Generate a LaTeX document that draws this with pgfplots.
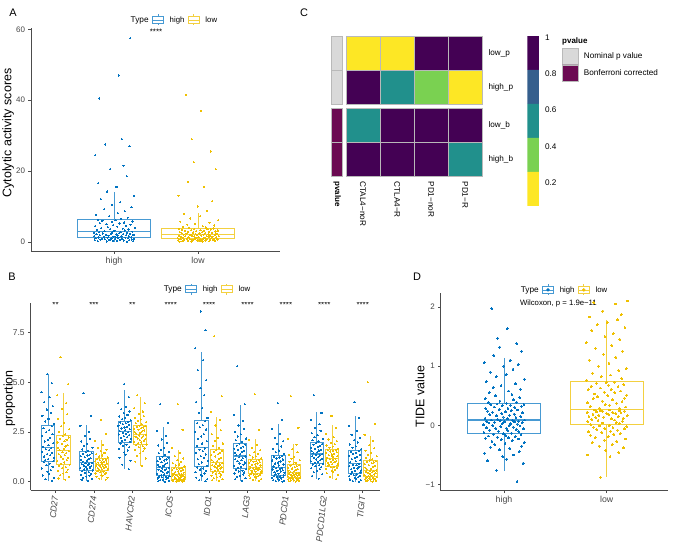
\documentclass[border=0pt]{standalone}
\usepackage{fontspec}
\setmainfont{Liberation Sans}
\usepackage{pgfplots}
\pgfplotsset{compat=1.18}
\usepackage{pgfplotstable}
\usepgfplotslibrary{statistics}

\definecolor{jblue}{HTML}{0073C2}
\definecolor{jyel}{HTML}{EFC000}
\colorlet{bblue}{jblue!72}
\colorlet{byel}{jyel!75}
\definecolor{vpur}{HTML}{440154}
\definecolor{vblu}{HTML}{355F8D}
\definecolor{vtea}{HTML}{21908C}
\definecolor{vgre}{HTML}{7AD151}
\definecolor{vyel}{HTML}{FDE725}
\definecolor{anngray}{HTML}{D9D9D9}
\definecolor{annpur}{HTML}{6B0A52}
\colorlet{hgrid}{gray!55}

\newcommand{\fs}[1]{\fontsize{#1}{#1}\selectfont}
\newcommand{\hc}[5]{\addplot[fill=#5, draw=hgrid, line width=0.5pt] coordinates {(#1,#3) (#2,#3) (#2,#4) (#1,#4) (#1,#3)};}
\newcommand{\fc}[5]{\addplot[fill=#5, draw=none] coordinates {(#1,#3) (#2,#3) (#2,#4) (#1,#4) (#1,#3)};}

\pgfplotsset{
  gg/.style={scale only axis, axis lines*=left, axis line style={black!70, line width=0.6pt},
    tick align=outside, major tick length=2.5bp, tick style={black!70, line width=0.5pt},
    tick label style={text=black!72}},
  keyb/.style={legend image code/.code={\draw[bblue, line width=0.6pt] (0bp,-3.5bp) rectangle (11bp,3.5bp) (0bp,0bp)--(11bp,0bp) (5.5bp,3.5bp)--(5.5bp,5.5bp) (5.5bp,-3.5bp)--(5.5bp,-5.5bp);}},
  keyy/.style={legend image code/.code={\draw[byel, line width=0.6pt] (0bp,-3.5bp) rectangle (11bp,3.5bp) (0bp,0bp)--(11bp,0bp) (5.5bp,3.5bp)--(5.5bp,5.5bp) (5.5bp,-3.5bp)--(5.5bp,-5.5bp);}},
  keydb/.style={legend image code/.code={\draw[bblue, line width=0.6pt] (0bp,-3.5bp) rectangle (11bp,3.5bp) (0bp,0bp)--(11bp,0bp) (5.5bp,3.5bp)--(5.5bp,5.5bp) (5.5bp,-3.5bp)--(5.5bp,-5.5bp); \fill[jblue] (5.5bp,0bp) circle (1.5bp);}},
  keydy/.style={legend image code/.code={\draw[byel, line width=0.6pt] (0bp,-3.5bp) rectangle (11bp,3.5bp) (0bp,0bp)--(11bp,0bp) (5.5bp,3.5bp)--(5.5bp,5.5bp) (5.5bp,-3.5bp)--(5.5bp,-5.5bp); \fill[jyel] (5.5bp,0bp) circle (1.5bp);}},
  gglegend/.style={legend style={draw=none, fill=none, legend columns=-1, anchor=center, font=\fs{7.8}, inner sep=0pt,
    /tikz/every even column/.append style={column sep=1.5bp},
    /tikz/every odd column/.append style={column sep=4bp}}},
  bx/.style={forget plot, line width=0.6pt, boxplot/draw direction=y, boxplot/every median/.style={line width=1.1pt}},
  ptb/.style={forget plot, only marks, mark=*, color=jblue, mark options={line width=0pt}},
  pty/.style={forget plot, only marks, mark=*, color=jyel, mark options={line width=0pt}},
}

% ---------- Panel A data (one row per series, transposed below)
\pgfplotstableread[header=false]{
ja 0.62 -0.35 0.91 -0.78 0.14 -0.06 0.47 -0.92 0.73 -0.21 0.28 -0.64 0.85 -0.43 0.05 0.96 -0.57 0.39 -0.12 0.67 -0.88 0.21 -0.31 0.54 -0.74 0.09 0.81 -0.49 -0.02 0.36 -0.95 0.71 -0.26 0.18 -0.67 0.58 0.93 -0.39 0.11 -0.83 0.44 -0.15 0.76 -0.53 0.25 -0.97 0.63 -0.08 0.32 -0.71 0.87 -0.45 0.02 0.51 -0.81 0.69 -0.18 0.41 -0.61 0.99 -0.29 0.16 -0.9 0.57 -0.04 0.79 -0.36 0.26 -0.68 0.48 -0.11 0.88 -0.55 0.07 -0.77 0.34 0.65 -0.23 -0.86 0.19 0.52 -0.47 0.83 -0.09 0.3 -0.62 0.95 -0.33 0.12 -0.75 0.6 -0.19 0.45 -0.89 0.74 -0.41 0.38 -0.7 0.22 0.78
jb -0.88 0.21 -0.31 0.54 -0.74 0.09 0.81 -0.49 -0.02 0.36 -0.95 0.71 -0.26 0.18 -0.67 0.58 0.93 -0.39 0.11 -0.83 0.44 -0.15 0.76 -0.53 0.25 -0.97 0.63 -0.08 0.32 -0.71 0.87 -0.45 0.02 0.51 -0.81 0.69 -0.18 0.41 -0.61 0.99 -0.29 0.16 -0.9 0.57 -0.04 0.79 -0.36 0.26 -0.68 0.48 -0.11 0.88 -0.55 0.07 -0.77 0.34 0.65 -0.23 -0.86 0.19 0.52 -0.47 0.83 -0.09 0.3 -0.62 0.95 -0.33 0.12 -0.75 0.6 -0.19 0.45 -0.89 0.74 -0.41 0.38 -0.7 0.22 0.78 -0.51 -0.14 0.55 -0.84 0.97 -0.37 0.1 -0.65 0.43 -0.01 0.68 -0.93 0.29 -0.48 0.84 -0.2 0.6 -0.3 0.15 -0.58
hi 0.04 0.09 0.16 0.21 0.27 0.3 0.36 0.42 0.45 0.51 0.56 0.6 0.66 0.71 0.74 0.8 0.86 0.9 0.94 1.0 1.04 1.09 1.12 1.17 1.21 1.28 1.33 1.4 1.45 1.52 1.58 1.63 1.7 1.76 1.82 1.88 1.93 2.0 2.05 2.12 2.18 2.24 2.3 2.37 2.43 2.5 2.56 2.62 2.69 2.75 2.88 3.0 3.1 3.22 3.35 3.47 3.6 3.72 3.86 4.0 4.13 4.27 4.4 4.55 4.7 4.85 5.0 5.15 5.3 5.45 5.6 5.75 5.9 6.05 6.2 6.5 6.8 7.2 7.6 8.1 8.6 9.2 9.8 10.4 11.2 12.0 13.0 14.2 15.5 16.5 18.5 20.5 21.5 24.5 27.0 27.5 29.0 40.5 47.0 57.5
lo 0.03 0.07 0.11 0.15 0.19 0.23 0.27 0.31 0.35 0.39 0.43 0.47 0.51 0.55 0.59 0.62 0.66 0.7 0.73 0.77 0.8 0.84 0.87 0.9 0.93 0.99 1.03 1.08 1.12 1.17 1.21 1.26 1.3 1.35 1.39 1.44 1.48 1.53 1.57 1.62 1.66 1.71 1.75 1.8 1.84 1.89 1.93 1.98 2.02 2.07 2.15 2.21 2.28 2.34 2.41 2.47 2.54 2.6 2.67 2.73 2.8 2.86 2.93 3.0 3.06 3.13 3.2 3.27 3.33 3.4 3.47 3.54 3.61 3.68 3.75 3.9 4.05 4.2 4.4 4.6 4.85 5.1 5.4 5.7 6.1 6.6 7.2 7.9 8.8 10.0 11.5 13.0 15.5 17.0 20.5 22.5 25.5 29.0 37.0 41.5
}\Araw
\pgfplotstabletranspose[colnames from=0]{\Atab}{\Araw}

% ---------- Panel B data
\pgfplotstableread[header=false]{
ja 0.62 -0.35 0.91 -0.78 0.14 -0.06 0.47 -0.92 0.73 -0.21 0.28 -0.64 0.85 -0.43 0.05 0.96 -0.57 0.39 -0.12 0.67 -0.88 0.21 -0.31 0.54 -0.74 0.09 0.81 -0.49 -0.02 0.36 -0.95 0.71 -0.26 0.18 -0.67 0.58 0.93 -0.39 0.11 -0.83 0.44 -0.15 0.76 -0.53 0.25 -0.97 0.63 -0.08
jb 0.32 -0.71 0.87 -0.45 0.02 0.51 -0.81 0.69 -0.18 0.41 -0.61 0.99 -0.29 0.16 -0.9 0.57 -0.04 0.79 -0.36 0.26 -0.68 0.48 -0.11 0.88 -0.55 0.07 -0.77 0.34 0.65 -0.23 -0.86 0.19 0.52 -0.47 0.83 -0.09 0.3 -0.62 0.95 -0.33 0.12 -0.75 0.6 -0.19 0.45 -0.89 0.74 -0.41
b1h 0.05 0.12 0.2 0.31 0.4 0.5 0.58 0.66 0.74 0.82 0.9 0.97 1.02 1.08 1.13 1.19 1.26 1.32 1.38 1.44 1.5 1.57 1.63 1.69 1.75 1.84 1.93 2.02 2.1 2.2 2.3 2.39 2.48 2.58 2.68 2.78 2.9 3.02 3.15 3.3 3.45 3.62 3.8 4.0 4.25 4.5 4.95 5.4
b1l 0.1 0.16 0.24 0.32 0.4 0.47 0.54 0.6 0.67 0.73 0.79 0.85 0.9 0.96 1.02 1.08 1.14 1.2 1.26 1.32 1.38 1.43 1.48 1.53 1.59 1.65 1.71 1.77 1.83 1.9 1.97 2.04 2.1 2.16 2.22 2.28 2.38 2.5 2.63 2.78 2.95 3.15 3.38 3.65 3.95 4.35 4.9 6.25
b2h 0.04 0.09 0.14 0.19 0.25 0.3 0.35 0.4 0.44 0.48 0.52 0.56 0.61 0.64 0.68 0.71 0.74 0.78 0.81 0.84 0.87 0.9 0.92 0.95 1.0 1.04 1.09 1.13 1.18 1.22 1.27 1.31 1.35 1.39 1.43 1.47 1.55 1.62 1.7 1.8 1.9 2.02 2.15 2.3 2.5 2.8 3.3 4.45
b2l 0.1 0.15 0.2 0.25 0.29 0.33 0.37 0.41 0.44 0.47 0.5 0.53 0.57 0.6 0.62 0.65 0.67 0.7 0.72 0.74 0.76 0.78 0.8 0.82 0.86 0.89 0.92 0.95 0.98 1.0 1.03 1.06 1.08 1.11 1.13 1.15 1.21 1.26 1.31 1.37 1.44 1.52 1.6 1.7 1.85 2.05 2.4 3.1
b3h 0.62 0.85 1.05 1.2 1.35 1.46 1.56 1.65 1.73 1.8 1.86 1.92 2.0 2.05 2.1 2.15 2.2 2.24 2.29 2.33 2.37 2.41 2.45 2.48 2.54 2.58 2.63 2.67 2.72 2.76 2.8 2.85 2.89 2.93 2.97 3.0 3.08 3.14 3.2 3.27 3.35 3.43 3.52 3.63 3.76 3.95 4.25 4.9
b3l 0.8 1.0 1.16 1.3 1.42 1.52 1.6 1.67 1.73 1.78 1.83 1.87 1.93 1.97 2.01 2.05 2.09 2.13 2.17 2.21 2.25 2.29 2.32 2.35 2.41 2.45 2.49 2.53 2.57 2.61 2.65 2.69 2.72 2.75 2.78 2.81 2.88 2.93 2.99 3.05 3.12 3.2 3.29 3.4 3.52 3.7 3.95 4.35
b4h 0.0 0.02 0.04 0.07 0.1 0.13 0.16 0.19 0.22 0.24 0.26 0.28 0.33 0.36 0.4 0.43 0.47 0.5 0.54 0.57 0.6 0.63 0.66 0.69 0.75 0.79 0.84 0.88 0.93 0.97 1.02 1.06 1.11 1.16 1.2 1.25 1.35 1.42 1.5 1.6 1.7 1.82 1.96 2.12 2.3 2.55 2.95 3.9
b4l 0.0 0.01 0.02 0.03 0.05 0.06 0.07 0.08 0.09 0.1 0.11 0.12 0.15 0.17 0.19 0.21 0.23 0.25 0.27 0.29 0.31 0.33 0.34 0.36 0.39 0.42 0.45 0.48 0.51 0.54 0.57 0.6 0.63 0.65 0.68 0.7 0.76 0.81 0.86 0.92 0.99 1.07 1.16 1.28 1.45 1.7 2.6 3.9
b5h 0.02 0.07 0.13 0.2 0.27 0.34 0.41 0.48 0.55 0.61 0.66 0.71 0.8 0.88 0.96 1.04 1.12 1.2 1.28 1.36 1.45 1.53 1.6 1.67 1.8 1.92 2.04 2.15 2.27 2.39 2.5 2.62 2.73 2.84 2.94 3.03 3.2 3.45 3.7 4.0 4.35 4.7 5.1 5.6 6.1 6.7 7.6 8.55
b5l 0.04 0.08 0.12 0.17 0.22 0.26 0.3 0.34 0.38 0.42 0.46 0.49 0.55 0.59 0.62 0.66 0.69 0.73 0.76 0.79 0.83 0.86 0.89 0.92 0.98 1.03 1.08 1.14 1.2 1.26 1.32 1.38 1.44 1.49 1.54 1.59 1.7 1.8 1.92 2.05 2.2 2.38 2.58 2.82 3.1 3.5 4.3 7.3
b6h 0.05 0.12 0.18 0.24 0.3 0.36 0.41 0.46 0.51 0.55 0.59 0.63 0.69 0.74 0.8 0.85 0.91 0.96 1.02 1.07 1.12 1.17 1.22 1.26 1.33 1.38 1.44 1.49 1.55 1.6 1.66 1.71 1.76 1.81 1.86 1.91 2.0 2.08 2.17 2.27 2.38 2.5 2.65 2.82 3.05 3.35 3.9 5.8
b6l 0.05 0.09 0.13 0.17 0.21 0.25 0.28 0.31 0.34 0.36 0.38 0.4 0.45 0.47 0.5 0.53 0.55 0.58 0.6 0.62 0.64 0.66 0.68 0.7 0.75 0.78 0.81 0.84 0.88 0.91 0.94 0.97 1.0 1.03 1.06 1.09 1.16 1.21 1.27 1.33 1.4 1.48 1.58 1.7 1.85 2.1 2.6 4.4
b7h 0.0 0.02 0.04 0.07 0.1 0.13 0.16 0.19 0.22 0.24 0.26 0.28 0.33 0.37 0.4 0.44 0.47 0.51 0.54 0.58 0.61 0.64 0.67 0.7 0.76 0.81 0.86 0.91 0.96 1.01 1.06 1.11 1.16 1.21 1.26 1.3 1.4 1.48 1.56 1.66 1.77 1.9 2.04 2.2 2.4 2.65 3.1 3.95
b7l 0.0 0.02 0.04 0.06 0.08 0.1 0.12 0.14 0.16 0.18 0.19 0.21 0.24 0.26 0.28 0.3 0.32 0.34 0.35 0.37 0.39 0.41 0.42 0.44 0.48 0.52 0.55 0.59 0.63 0.66 0.7 0.73 0.77 0.8 0.83 0.87 0.94 1.0 1.07 1.15 1.24 1.35 1.48 1.64 1.85 2.15 2.7 4.3
b8h 0.15 0.28 0.38 0.47 0.55 0.62 0.68 0.73 0.78 0.82 0.86 0.9 0.95 0.99 1.03 1.07 1.11 1.15 1.19 1.23 1.27 1.31 1.34 1.37 1.42 1.47 1.52 1.56 1.61 1.66 1.71 1.75 1.8 1.85 1.89 1.94 2.02 2.09 2.16 2.24 2.33 2.43 2.55 2.7 2.88 3.1 3.45 4.35
b8l 0.12 0.24 0.34 0.42 0.49 0.55 0.6 0.65 0.69 0.72 0.75 0.77 0.82 0.85 0.88 0.91 0.94 0.97 1.0 1.03 1.06 1.09 1.12 1.15 1.2 1.24 1.28 1.32 1.36 1.4 1.44 1.47 1.51 1.54 1.57 1.6 1.66 1.71 1.76 1.82 1.88 1.95 2.03 2.12 2.24 2.4 2.7 3.3
b9h 0.0 0.03 0.07 0.11 0.15 0.19 0.23 0.27 0.3 0.33 0.36 0.39 0.46 0.5 0.54 0.58 0.62 0.66 0.7 0.74 0.78 0.82 0.85 0.89 0.97 1.02 1.08 1.13 1.19 1.24 1.3 1.35 1.4 1.45 1.5 1.54 1.63 1.7 1.78 1.87 1.97 2.08 2.2 2.35 2.55 2.8 3.2 4.0
b9l 0.0 0.02 0.04 0.06 0.09 0.11 0.13 0.15 0.17 0.19 0.21 0.23 0.28 0.3 0.33 0.36 0.39 0.42 0.44 0.47 0.5 0.52 0.54 0.56 0.61 0.65 0.7 0.74 0.79 0.83 0.88 0.92 0.96 1.0 1.03 1.06 1.13 1.2 1.27 1.35 1.44 1.55 1.68 1.83 2.05 2.35 2.9 5.0
}\Braw
\pgfplotstabletranspose[colnames from=0]{\Btab}{\Braw}

% ---------- Panel D data
\pgfplotstableread[header=false]{
ja 0.62 -0.35 0.91 -0.78 0.14 -0.06 0.47 -0.92 0.73 -0.21 0.28 -0.64 0.85 -0.43 0.05 0.96 -0.57 0.39 -0.12 0.67 -0.88 0.21 -0.31 0.54 -0.74 0.09 0.81 -0.49 -0.02 0.36 -0.95 0.71 -0.26 0.18 -0.67 0.58 0.93 -0.39 0.11 -0.83 0.44 -0.15 0.76 -0.53 0.25 -0.97 0.63 -0.08 0.32 -0.71 0.87 -0.45 0.02 0.51 -0.81 0.69 -0.18 0.41 -0.61 0.99 -0.29 0.16 -0.9 0.57 -0.04 0.79 -0.36 0.26 -0.68 0.48 -0.11 0.88 -0.55 0.07 -0.77 0.34 0.65 -0.23 -0.86 0.19 0.52 -0.47 0.83 -0.09 0.3 -0.62 0.95 -0.33 0.12 -0.75 0.6 -0.19 0.45 -0.89 0.74 -0.41 0.38 -0.7 0.22 0.78 -0.51 -0.14 0.55 -0.84 0.97 -0.37 0.1 -0.65 0.43 -0.01 0.68 -0.93 0.29 -0.48 0.84 -0.2 0.6 -0.3 0.15 -0.58
jb -0.29 0.16 -0.9 0.57 -0.04 0.79 -0.36 0.26 -0.68 0.48 -0.11 0.88 -0.55 0.07 -0.77 0.34 0.65 -0.23 -0.86 0.19 0.52 -0.47 0.83 -0.09 0.3 -0.62 0.95 -0.33 0.12 -0.75 0.6 -0.19 0.45 -0.89 0.74 -0.41 0.38 -0.7 0.22 0.78 -0.51 -0.14 0.55 -0.84 0.97 -0.37 0.1 -0.65 0.43 -0.01 0.68 -0.93 0.29 -0.48 0.84 -0.2 0.6 -0.3 0.15 -0.58 0.62 -0.35 0.91 -0.78 0.14 -0.06 0.47 -0.92 0.73 -0.21 0.28 -0.64 0.85 -0.43 0.05 0.96 -0.57 0.39 -0.12 0.67 -0.88 0.21 -0.31 0.54 -0.74 0.09 0.81 -0.49 -0.02 0.36 -0.95 0.71 -0.26 0.18 -0.67 0.58 0.93 -0.39 0.11 -0.83 0.44 -0.15 0.76 -0.53 0.25 -0.97 0.63 -0.08 0.32 -0.71 0.87 -0.45 0.02 0.51 -0.81 0.69 -0.18 0.41 -0.61 0.99
hi -0.95 -0.76 -0.64 -0.6 -0.57 -0.53 -0.5 -0.47 -0.44 -0.41 -0.39 -0.37 -0.35 -0.33 -0.31 -0.29 -0.27 -0.26 -0.24 -0.23 -0.22 -0.21 -0.2 -0.19 -0.18 -0.17 -0.16 -0.15 -0.14 -0.13 -0.12 -0.11 -0.1 -0.09 -0.08 -0.07 -0.06 -0.05 -0.05 -0.04 -0.03 -0.02 -0.01 0.0 0.0 0.01 0.02 0.03 0.03 0.04 0.05 0.05 0.06 0.06 0.07 0.07 0.08 0.08 0.09 0.09 0.1 0.11 0.12 0.13 0.14 0.15 0.16 0.17 0.18 0.19 0.2 0.21 0.22 0.23 0.24 0.25 0.26 0.27 0.28 0.29 0.3 0.31 0.32 0.33 0.34 0.35 0.35 0.36 0.37 0.38 0.39 0.41 0.43 0.45 0.47 0.5 0.52 0.55 0.58 0.61 0.64 0.67 0.7 0.74 0.78 0.82 0.86 0.9 0.95 1.0 1.03 1.06 1.1 1.18 1.25 1.32 1.38 1.47 1.63 1.97
lo -0.88 -0.53 -0.5 -0.46 -0.42 -0.38 -0.35 -0.32 -0.29 -0.27 -0.25 -0.23 -0.21 -0.19 -0.17 -0.15 -0.14 -0.12 -0.11 -0.1 -0.08 -0.07 -0.06 -0.05 -0.04 -0.03 -0.02 -0.01 0.0 0.01 0.03 0.04 0.05 0.06 0.07 0.08 0.09 0.1 0.11 0.12 0.13 0.14 0.15 0.15 0.16 0.17 0.18 0.19 0.2 0.2 0.21 0.22 0.22 0.23 0.24 0.24 0.25 0.25 0.26 0.26 0.28 0.29 0.31 0.32 0.34 0.35 0.37 0.38 0.4 0.41 0.43 0.45 0.46 0.48 0.5 0.51 0.53 0.55 0.56 0.58 0.6 0.61 0.63 0.65 0.66 0.68 0.69 0.71 0.72 0.73 0.76 0.79 0.82 0.85 0.88 0.92 0.96 1.0 1.05 1.1 1.15 1.2 1.25 1.3 1.35 1.4 1.45 1.5 1.55 1.6 1.65 1.7 1.74 1.78 1.83 1.87 1.93 2.05 2.07 2.1
}\Draw
\pgfplotstabletranspose[colnames from=0]{\Dtab}{\Draw}

\begin{document}
\begin{tikzpicture}
\useasboundingbox (0,0) rectangle (685bp,-542bp);
\node[font=\fs{11}] at (13bp,-13bp) {A};
\node[font=\fs{11}] at (12bp,-277bp) {B};
\node[font=\fs{11}] at (304bp,-13bp) {C};
\node[font=\fs{11}] at (417bp,-277bp) {D};

% ================= Panel A
\begin{axis}[gg, gglegend, at={(31bp,-251bp)}, anchor=south west, width=249bp, height=223bp,
  xmin=0.012, xmax=2.976, ymin=-2.6, ymax=60.4,
  xtick={1,2}, xticklabels={high,low}, ytick={0,20,40,60}, yticklabels={0,20,40,60},
  x tick label style={font=\fs{8.8}}, y tick label style={font=\fs{8}},
  ylabel={Cytolytic activity scores},
  ylabel style={at={(axis description cs:-0.092,0.529)}, anchor=center, font=\fs{12.5}},
  legend style={at={(0.566,1.036)}}]
\addlegendimage{empty legend}\addlegendentry{\fs{8.3}Type}
\addlegendimage{keyb}\addlegendentry{high}
\addlegendimage{keyy}\addlegendentry{low}
\addplot[bx, bblue, boxplot prepared={draw position=1, lower whisker=0.04, lower quartile=1.24, median=2.8, upper quartile=6.3, upper whisker=14.1, box extend=0.87, whisker extend=0}] coordinates {};
\addplot[bx, byel, boxplot prepared={draw position=2, lower whisker=0.03, lower quartile=0.95, median=2.1, upper quartile=3.8, upper whisker=8.1, box extend=0.87, whisker extend=0}] coordinates {};
\addplot[ptb, mark size=0.6pt] table[x expr={1+0.25*\thisrow{ja}}, y=hi] {\Atab};
\addplot[pty, mark size=0.6pt] table[x expr={2+0.25*\thisrow{jb}}, y=lo] {\Atab};
\node[font=\fs{8}] at (axis cs:1.5,59.3) {****};
\end{axis}

% ================= Panel B
\begin{axis}[gg, gglegend, at={(30.7bp,-490bp)}, anchor=south west, width=349.3bp, height=187.3bp,
  xmin=0.354, xmax=9.45, ymin=-0.42, ymax=8.99,
  xtick={1,...,9}, xticklabels={CD27,CD274,HAVCR2,ICOS,IDO1,LAG3,PDCD1,PDCD1LG2,TIGIT},
  x tick label style={rotate=84, anchor=east, font=\itshape\fs{8.8}},
  ytick={0,2.5,5,7.5}, yticklabels={0.0,2.5,5.0,7.5}, y tick label style={font=\fs{8.5}},
  ylabel={proportion},
  ylabel style={at={(axis description cs:-0.061,0.49)}, anchor=center, font=\fs{12.5}},
  legend style={at={(0.499,1.073)}}]
\addlegendimage{empty legend}\addlegendentry{\fs{8.3}Type}
\addlegendimage{keyb}\addlegendentry{high}
\addlegendimage{keyy}\addlegendentry{low}
% boxes: high at i-0.2, low at i+0.2
\addplot[bx, bblue, boxplot prepared={draw position=0.8, lower whisker=0.05, lower quartile=1.0, median=1.72, upper quartile=2.85, upper whisker=5.4, box extend=0.35, whisker extend=0}] coordinates {};
\addplot[bx, byel, boxplot prepared={draw position=1.2, lower whisker=0.1, lower quartile=0.87, median=1.56, upper quartile=2.31, upper whisker=4.45, box extend=0.35, whisker extend=0}] coordinates {};
\addplot[bx, bblue, boxplot prepared={draw position=1.8, lower whisker=0.04, lower quartile=0.59, median=0.97, upper quartile=1.5, upper whisker=2.85, box extend=0.35, whisker extend=0}] coordinates {};
\addplot[bx, byel, boxplot prepared={draw position=2.2, lower whisker=0.1, lower quartile=0.55, median=0.84, upper quartile=1.17, upper whisker=2.1, box extend=0.35, whisker extend=0}] coordinates {};
\addplot[bx, bblue, boxplot prepared={draw position=2.8, lower whisker=0.62, lower quartile=1.96, median=2.51, upper quartile=3.03, upper whisker=4.6, box extend=0.35, whisker extend=0}] coordinates {};
\addplot[bx, byel, boxplot prepared={draw position=3.2, lower whisker=0.8, lower quartile=1.89, median=2.38, upper quartile=2.84, upper whisker=4.25, box extend=0.35, whisker extend=0}] coordinates {};
\addplot[bx, bblue, boxplot prepared={draw position=3.8, lower whisker=0.0, lower quartile=0.3, median=0.72, upper quartile=1.29, upper whisker=2.75, box extend=0.35, whisker extend=0}] coordinates {};
\addplot[bx, byel, boxplot prepared={draw position=4.2, lower whisker=0.0, lower quartile=0.13, median=0.37, upper quartile=0.72, upper whisker=1.6, box extend=0.35, whisker extend=0}] coordinates {};
\addplot[bx, bblue, boxplot prepared={draw position=4.8, lower whisker=0.02, lower quartile=0.75, median=1.72, upper quartile=3.08, upper whisker=6.5, box extend=0.35, whisker extend=0}] coordinates {};
\addplot[bx, byel, boxplot prepared={draw position=5.2, lower whisker=0.04, lower quartile=0.52, median=0.94, upper quartile=1.62, upper whisker=3.25, box extend=0.35, whisker extend=0}] coordinates {};
\addplot[bx, bblue, boxplot prepared={draw position=5.8, lower whisker=0.05, lower quartile=0.65, median=1.29, upper quartile=1.94, upper whisker=3.85, box extend=0.35, whisker extend=0}] coordinates {};
\addplot[bx, byel, boxplot prepared={draw position=6.2, lower whisker=0.05, lower quartile=0.42, median=0.72, upper quartile=1.12, upper whisker=2.15, box extend=0.35, whisker extend=0}] coordinates {};
\addplot[bx, bblue, boxplot prepared={draw position=6.8, lower whisker=0.0, lower quartile=0.3, median=0.72, upper quartile=1.34, upper whisker=2.9, box extend=0.35, whisker extend=0}] coordinates {};
\addplot[bx, byel, boxplot prepared={draw position=7.2, lower whisker=0.0, lower quartile=0.22, median=0.45, upper quartile=0.89, upper whisker=1.88, box extend=0.35, whisker extend=0}] coordinates {};
\addplot[bx, bblue, boxplot prepared={draw position=7.8, lower whisker=0.15, lower quartile=0.92, median=1.39, upper quartile=1.97, upper whisker=3.5, box extend=0.35, whisker extend=0}] coordinates {};
\addplot[bx, byel, boxplot prepared={draw position=8.2, lower whisker=0.12, lower quartile=0.79, median=1.17, upper quartile=1.62, upper whisker=2.85, box extend=0.35, whisker extend=0}] coordinates {};
\addplot[bx, bblue, boxplot prepared={draw position=8.8, lower whisker=0.0, lower quartile=0.42, median=0.92, upper quartile=1.57, upper whisker=3.28, box extend=0.35, whisker extend=0}] coordinates {};
\addplot[bx, byel, boxplot prepared={draw position=9.2, lower whisker=0.0, lower quartile=0.25, median=0.57, upper quartile=1.07, upper whisker=2.3, box extend=0.35, whisker extend=0}] coordinates {};
% points
\addplot[ptb, mark size=0.6pt] table[x expr={0.8+0.17*\thisrow{ja}}, y=b1h] {\Btab};
\addplot[pty, mark size=0.6pt] table[x expr={1.2+0.17*\thisrow{jb}}, y=b1l] {\Btab};
\addplot[ptb, mark size=0.6pt] table[x expr={1.8+0.17*\thisrow{jb}}, y=b2h] {\Btab};
\addplot[pty, mark size=0.6pt] table[x expr={2.2+0.17*\thisrow{ja}}, y=b2l] {\Btab};
\addplot[ptb, mark size=0.6pt] table[x expr={2.8+0.17*\thisrow{ja}}, y=b3h] {\Btab};
\addplot[pty, mark size=0.6pt] table[x expr={3.2+0.17*\thisrow{jb}}, y=b3l] {\Btab};
\addplot[ptb, mark size=0.6pt] table[x expr={3.8+0.17*\thisrow{jb}}, y=b4h] {\Btab};
\addplot[pty, mark size=0.6pt] table[x expr={4.2+0.17*\thisrow{ja}}, y=b4l] {\Btab};
\addplot[ptb, mark size=0.6pt] table[x expr={4.8+0.17*\thisrow{ja}}, y=b5h] {\Btab};
\addplot[pty, mark size=0.6pt] table[x expr={5.2+0.17*\thisrow{jb}}, y=b5l] {\Btab};
\addplot[ptb, mark size=0.6pt] table[x expr={5.8+0.17*\thisrow{jb}}, y=b6h] {\Btab};
\addplot[pty, mark size=0.6pt] table[x expr={6.2+0.17*\thisrow{ja}}, y=b6l] {\Btab};
\addplot[ptb, mark size=0.6pt] table[x expr={6.8+0.17*\thisrow{ja}}, y=b7h] {\Btab};
\addplot[pty, mark size=0.6pt] table[x expr={7.2+0.17*\thisrow{jb}}, y=b7l] {\Btab};
\addplot[ptb, mark size=0.6pt] table[x expr={7.8+0.17*\thisrow{jb}}, y=b8h] {\Btab};
\addplot[pty, mark size=0.6pt] table[x expr={8.2+0.17*\thisrow{ja}}, y=b8l] {\Btab};
\addplot[ptb, mark size=0.6pt] table[x expr={8.8+0.17*\thisrow{ja}}, y=b9h] {\Btab};
\addplot[pty, mark size=0.6pt] table[x expr={9.2+0.17*\thisrow{jb}}, y=b9l] {\Btab};
\begin{scope}[font=\fs{8}]
\node at (axis cs:1,8.87) {**};
\node at (axis cs:2,8.87) {***};
\node at (axis cs:3,8.87) {**};
\node at (axis cs:4,8.87) {****};
\node at (axis cs:5,8.87) {****};
\node at (axis cs:6,8.87) {****};
\node at (axis cs:7,8.87) {****};
\node at (axis cs:8,8.87) {****};
\node at (axis cs:9,8.87) {****};
\end{scope}
\end{axis}

% ================= Panel C (heatmap)
\begin{axis}[at={(346bp,-36bp)}, anchor=north west, scale only axis, width=136.3bp, height=140.7bp,
  xmin=0.5, xmax=4.5, ymin=0, ymax=4.11, y dir=reverse, hide axis, clip=false]
% rows: low_p 0-1, high_p 1-2, low_b 2.11-3.11, high_b 3.11-4.11
\hc{0.5}{1.5}{0}{1}{vyel} \hc{1.5}{2.5}{0}{1}{vyel} \hc{2.5}{3.5}{0}{1}{vpur} \hc{3.5}{4.5}{0}{1}{vpur}
\hc{0.5}{1.5}{1}{2}{vpur} \hc{1.5}{2.5}{1}{2}{vtea} \hc{2.5}{3.5}{1}{2}{vgre} \hc{3.5}{4.5}{1}{2}{vyel}
\hc{0.5}{1.5}{2.11}{3.11}{vtea} \hc{1.5}{2.5}{2.11}{3.11}{vpur} \hc{2.5}{3.5}{2.11}{3.11}{vpur} \hc{3.5}{4.5}{2.11}{3.11}{vpur}
\hc{0.5}{1.5}{3.11}{4.11}{vpur} \hc{1.5}{2.5}{3.11}{4.11}{vpur} \hc{2.5}{3.5}{3.11}{4.11}{vpur} \hc{3.5}{4.5}{3.11}{4.11}{vtea}
% annotation column
\hc{0.08}{0.40}{0}{1}{anngray} \hc{0.08}{0.40}{1}{2}{anngray}
\hc{0.08}{0.40}{2.11}{3.11}{annpur} \hc{0.08}{0.40}{3.11}{4.11}{annpur}
% colour bar
\fc{5.82}{6.16}{0}{0.992}{vpur} \fc{5.82}{6.16}{0.992}{1.984}{vblu} \fc{5.82}{6.16}{1.984}{2.976}{vtea}
\fc{5.82}{6.16}{2.976}{3.968}{vgre} \fc{5.82}{6.16}{3.968}{4.96}{vyel}
% legend keys
\hc{6.84}{7.31}{0.36}{0.825}{anngray} \hc{6.84}{7.31}{0.845}{1.31}{annpur}
\begin{scope}[font=\fs{8.2}]
\node[anchor=west] at (axis cs:4.58,0.5) {low\_p};
\node[anchor=west] at (axis cs:4.58,1.5) {high\_p};
\node[anchor=west] at (axis cs:4.58,2.61) {low\_b};
\node[anchor=west] at (axis cs:4.58,3.61) {high\_b};
\node[rotate=-90, anchor=west] at (axis cs:1,4.15) {CTAL4−noR};
\node[rotate=-90, anchor=west] at (axis cs:2,4.15) {CTLA4−R};
\node[rotate=-90, anchor=west] at (axis cs:3,4.15) {PD1−noR};
\node[rotate=-90, anchor=west] at (axis cs:4,4.15) {PD1−R};
\node[rotate=-90, anchor=west, font=\bfseries\fs{8}] at (axis cs:0.24,4.15) {pvalue};
\node[anchor=west] at (axis cs:6.24,0.05) {1};
\node[anchor=west] at (axis cs:6.24,1.09) {0.8};
\node[anchor=west] at (axis cs:6.24,2.16) {0.6};
\node[anchor=west] at (axis cs:6.24,3.23) {0.4};
\node[anchor=west] at (axis cs:6.24,4.28) {0.2};
\node[anchor=west, font=\bfseries\fs{8}, inner sep=0pt] at (axis cs:6.84,0.17) {pvalue};
\node[anchor=west] at (axis cs:7.38,0.6) {Nominal p value};
\node[anchor=west] at (axis cs:7.38,1.08) {Bonferroni corrected};
\end{scope}
\end{axis}

% ================= Panel D
\begin{axis}[gg, gglegend, at={(440.7bp,-490.5bp)}, anchor=south west, width=227.6bp, height=197.8bp,
  xmin=0.384, xmax=2.6, ymin=-1.1, ymax=2.24,
  xtick={1,2}, xticklabels={high,low}, ytick={-1,0,1,2}, yticklabels={−1,0,1,2},
  x tick label style={font=\fs{8.8}}, y tick label style={font=\fs{8}},
  ylabel={TIDE value},
  ylabel style={at={(axis description cs:-0.091,0.474)}, anchor=center, font=\fs{12.5}},
  legend style={at={(0.533,1.014)}}]
\addlegendimage{empty legend}\addlegendentry{\fs{8.3}Type}
\addlegendimage{keydb}\addlegendentry{high}
\addlegendimage{keydy}\addlegendentry{low}
\addplot[bx, bblue, boxplot prepared={draw position=1, lower whisker=-0.77, lower quartile=-0.13, median=0.09, upper quartile=0.38, upper whisker=1.14, box extend=0.708, whisker extend=0}] coordinates {};
\addplot[bx, byel, boxplot prepared={draw position=2, lower whisker=-0.88, lower quartile=0.02, median=0.27, upper quartile=0.74, upper whisker=1.78, box extend=0.708, whisker extend=0}] coordinates {};
\addplot[ptb, mark size=0.95pt] table[x expr={1+0.205*\thisrow{ja}}, y=hi] {\Dtab};
\addplot[pty, mark size=0.95pt] table[x expr={2+0.205*\thisrow{jb}}, y=lo] {\Dtab};
\node[font=\fs{7.8}] at (axis cs:1.53,2.06) {Wilcoxon, p = 1.9e−11};
\end{axis}
\end{tikzpicture}
\end{document}
